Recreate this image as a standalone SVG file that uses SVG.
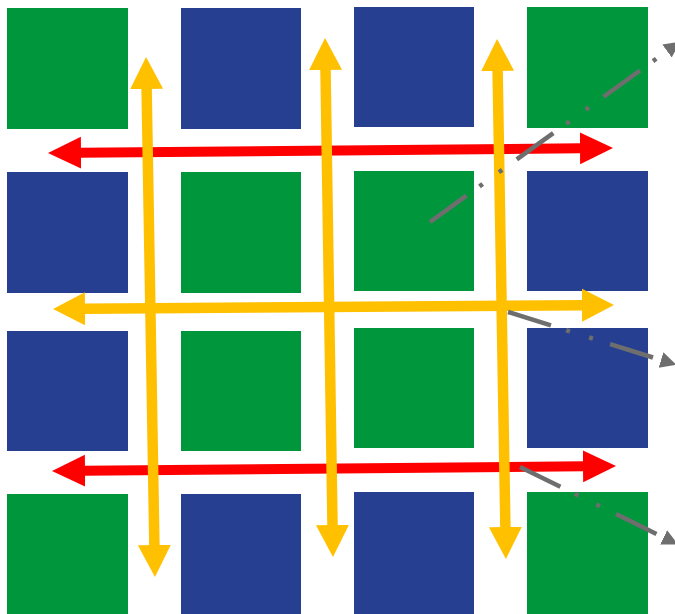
<svg xmlns="http://www.w3.org/2000/svg" width="675" height="614" viewBox="0 0 675 614">
  <style>
    .g { fill: #00963C; }
    .b { fill: #273F91; }
    .red { stroke: #FF0000; stroke-width: 10; fill: none; }
    .yel { stroke: #FFC000; stroke-width: 10.5; fill: none; }
    .gray { stroke: #6E6E6E; stroke-width: 4.5; fill: none; stroke-dasharray: 45 16 4 20 4 18; }
  </style>
  <defs>
    <marker id="hr" markerUnits="userSpaceOnUse" markerWidth="40" markerHeight="40" viewBox="0 -20 40 40" refX="1" refY="0" orient="auto-start-reverse">
      <path d="M0,-16 L33,0 L0,16 Z" fill="#FF0000"/>
    </marker>
    <marker id="hy" markerUnits="userSpaceOnUse" markerWidth="40" markerHeight="40" viewBox="0 -20 40 40" refX="1" refY="0" orient="auto-start-reverse">
      <path d="M0,-16.5 L32,0 L0,16.5 Z" fill="#FFC000"/>
    </marker>
    <marker id="hg" markerUnits="userSpaceOnUse" markerWidth="20" markerHeight="20" viewBox="0 -10 20 20" refX="0" refY="0" orient="auto">
      <path d="M0,-8 L16,0 L0,8 Z" fill="#6E6E6E"/>
    </marker>
  </defs>
  <rect width="675" height="614" fill="#FFFFFF"/>

  <g id="squares">
    <g id="r1c1"><rect class="g" x="7" y="8" width="121" height="121"/></g>
    <g id="r1c2"><rect class="b" x="181" y="8" width="120" height="121"/></g>
    <g id="r1c3"><rect class="b" x="354" y="7" width="120" height="120"/></g>
    <g id="r1c4"><rect class="g" x="527" y="7" width="121" height="121"/></g>

    <g id="r2c1"><rect class="b" x="7" y="172" width="121" height="121"/></g>
    <g id="r2c2"><rect class="g" x="181" y="172" width="120" height="121"/></g>
    <g id="r2c3"><rect class="g" x="354" y="171" width="120" height="120"/></g>
    <g id="r2c4"><rect class="b" x="527" y="171" width="121" height="120"/></g>

    <g id="r3c1"><rect class="b" x="7" y="331" width="121" height="120"/></g>
    <g id="r3c2"><rect class="g" x="181" y="331" width="120" height="120"/></g>
    <g id="r3c3"><rect class="g" x="354" y="328" width="120" height="120"/></g>
    <g id="r3c4"><rect class="b" x="527" y="328" width="121" height="120"/></g>

    <g id="r4c1"><rect class="g" x="7" y="494" width="121" height="120"/></g>
    <g id="r4c2"><rect class="b" x="181" y="494" width="120" height="120"/></g>
    <g id="r4c3"><rect class="b" x="354" y="492" width="120" height="122"/></g>
    <g id="r4c4"><rect class="g" x="527" y="492" width="121" height="122"/></g>
  </g>

  <g id="connectors">
    <line class="red" x1="80" y1="152.7" x2="581" y2="148.3" marker-start="url(#hr)" marker-end="url(#hr)"/>
    <line class="red" x1="84" y1="470.7" x2="584" y2="466.3" marker-start="url(#hr)" marker-end="url(#hr)"/>
    <line class="yel" x1="84" y1="308.8" x2="583" y2="305.2" marker-start="url(#hy)" marker-end="url(#hy)"/>
    <line class="yel" x1="146.6" y1="88" x2="154.4" y2="546" marker-start="url(#hy)" marker-end="url(#hy)"/>
    <line class="yel" x1="325.5" y1="69" x2="332.5" y2="526" marker-start="url(#hy)" marker-end="url(#hy)"/>
    <line class="yel" x1="497.6" y1="70" x2="505.4" y2="528" marker-start="url(#hy)" marker-end="url(#hy)"/>

    <line class="gray" x1="430" y1="222" x2="667" y2="51" marker-end="url(#hg)"/>
    <line class="gray" x1="508" y1="312" x2="661" y2="360" marker-end="url(#hg)"/>
    <line class="gray" x1="520" y1="467" x2="663.6" y2="537.4" marker-end="url(#hg)"/>
  </g>
</svg>
